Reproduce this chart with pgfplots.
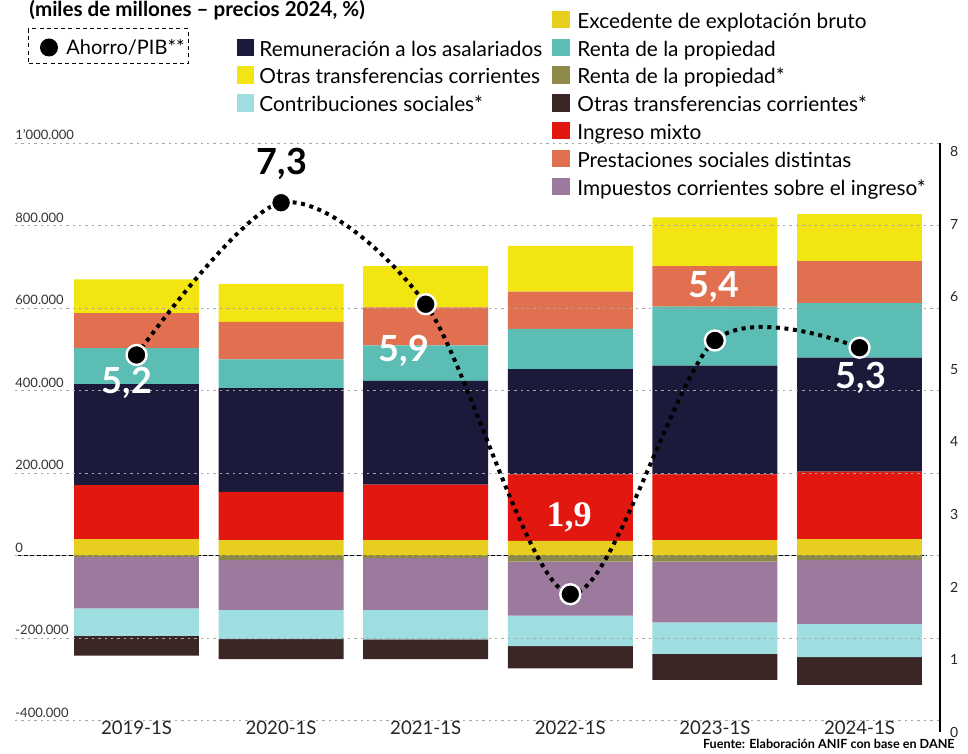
\documentclass[border=0pt]{standalone}
\usepackage{fontspec}
\setmainfont{Lato}
\newfontfamily\serifb{Liberation Serif}
\usepackage{pgfplots}
\pgfplotsset{compat=1.18}

\definecolor{cE}{HTML}{E8CF1F}
\definecolor{cOT}{HTML}{F3E512}
\definecolor{cM}{HTML}{E2170F}
\definecolor{cR}{HTML}{1B1A3A}
\definecolor{cRP}{HTML}{5BBDB3}
\definecolor{cPS}{HTML}{E0704F}
\definecolor{cRPs}{HTML}{8E8B4A}
\definecolor{cI}{HTML}{9B7A9E}
\definecolor{cC}{HTML}{9EDDE0}
\definecolor{cOTs}{HTML}{3B2626}

\pgfplotsset{base/.style={
  scale only axis, width=462.5pt, height=294.4pt,
  at={(7.5pt,11pt)}, anchor=south west,
  xmin=-0.8403, xmax=5.5567,
}}
\newcommand\legf{\fontsize{10.4}{12}\selectfont}

\begin{document}
\begin{tikzpicture}
\useasboundingbox (0,0) rectangle (484pt,377pt);

% negative stack
\begin{axis}[base, ymin=-427400, ymax=1000000, hide axis,
  ybar stacked, bar width=0.864]
\addplot[fill=cRPs, draw=none] coordinates {(0,-3000) (1,-10500) (2,-5000) (3,-14500) (4,-14500) (5,-10500)};
\addplot[fill=cI, draw=none] coordinates {(0,-124500) (1,-121000) (2,-126600) (3,-130500) (4,-147000) (5,-155000)};
\addplot[fill=cC, draw=none] coordinates {(0,-67000) (1,-71000) (2,-71000) (3,-74000) (4,-76500) (5,-80500)};
\addplot[fill=cOTs, draw=none] coordinates {(0,-48000) (1,-48000) (2,-48000) (3,-54000) (4,-63000) (5,-67000)};
\end{axis}

% positive stack
\begin{axis}[base, ymin=-427400, ymax=1000000,
  ybar stacked, bar width=0.864, axis on top,
  axis line style={draw=none}, major tick length=0, scaled y ticks=false,
  ytick={-400000,-200000,0,200000,400000,600000,800000,1000000},
  yticklabels={-400.000,-200.000,0,200.000,400.000,600.000,800.000,1'000.000},
  yticklabel style={anchor=south west, inner sep=0pt, yshift=1.5pt, text=black!80, font=\fontsize{6.5}{7}\selectfont},
  ymajorgrids, major grid style={gray!70, line width=0.4pt, dash pattern=on 1.2pt off 2pt},
  xtick={0,1,2,3,4,5},
  xticklabels={2019-1S,2020-1S,2021-1S,2022-1S,2023-1S,2024-1S},
  xticklabel style={anchor=base, yshift=-1.5pt, text=black!85, font=\fontsize{9.3}{10}\selectfont},
]
\addplot[fill=cE, draw=none] coordinates {(0,40000) (1,38000) (2,38000) (3,36000) (4,38000) (5,40000)};
\addplot[fill=cM, draw=none] coordinates {(0,131000) (1,117000) (2,134000) (3,161000) (4,159000) (5,164000)};
\addplot[fill=cR, draw=none] coordinates {(0,245000) (1,251000) (2,252000) (3,255000) (4,264000) (5,276000)};
\addplot[fill=cRP, draw=none] coordinates {(0,87000) (1,70000) (2,86000) (3,98000) (4,143000) (5,132000)};
\addplot[fill=cPS, draw=none] coordinates {(0,85000) (1,91000) (2,92000) (3,90000) (4,98000) (5,102000)};
\addplot[fill=cOT, draw=none] coordinates {(0,82000) (1,92000) (2,100000) (3,111000) (4,118000) (5,114000)};
\draw[black, line width=0.75pt] (axis cs:-0.819,0) -- (axis cs:5.467,0);
\end{axis}

% right axis: Ahorro/PIB
\begin{axis}[base, ymin=0, ymax=8.121,
  axis x line=none, axis y line*=right,
  axis line style={black, line width=0.6pt, -},
  major tick length=0,
  ytick={0,1,2,3,4,5,6,7,8},
  yticklabels={0,1,2,3,4,5,6,7,8},
  yticklabel style={anchor=west, xshift=1.5pt, text=black!85, font=\fontsize{7}{8}\selectfont},
]
\addplot[smooth, black, line width=2pt, dash pattern=on 2pt off 2.3pt] coordinates {(0,5.2) (1,7.3) (2,5.9) (3,1.9) (4,5.4) (5,5.3)};
\addplot[only marks, mark=*, mark size=5pt, mark options={fill=black, draw=white, line width=1.2pt}] coordinates {(0,5.2) (1,7.3) (2,5.9) (3,1.9) (4,5.4) (5,5.3)};
\end{axis}

\begin{scope}[x=0.5pt, y=-0.5pt, yshift=377pt]
% title
\node[anchor=base west, inner sep=0pt, font=\bfseries\fontsize{10.3}{12}\selectfont] at (29,17) {(miles de millones – precios 2024, \%)};
% Ahorro box
\draw[black, line width=0.5pt, dash pattern=on 2pt off 1.6pt] (28,29) rectangle (188,64);
\fill[black] (49,47.5) circle (9);
\node[anchor=base west, inner sep=0pt, font=\fontsize{10}{11}\selectfont] at (66,55) {Ahorro/PIB**};
% legend column 1
\fill[cR] (237,38.6) rectangle (254,56.1);
\node[anchor=base west, inner sep=0pt, font=\legf] at (259,56.1) {Remuneración a los asalariados};
\fill[cOT] (237,66.4) rectangle (254,83.9);
\node[anchor=base west, inner sep=0pt, font=\legf] at (259,83.9) {Otras transferencias corrientes};
\fill[cC] (237,94.2) rectangle (254,111.7);
\node[anchor=base west, inner sep=0pt, font=\legf] at (259,111.7) {Contribuciones sociales*};
% legend column 2
\fill[cE] (552,10.8) rectangle (570,28.3);
\node[anchor=base west, inner sep=0pt, font=\legf] at (577,28.3) {Excedente de explotación bruto};
\fill[cRP] (552,38.6) rectangle (570,56.1);
\node[anchor=base west, inner sep=0pt, font=\legf] at (577,56.1) {Renta de la propiedad};
\fill[cRPs] (552,66.4) rectangle (570,83.9);
\node[anchor=base west, inner sep=0pt, font=\legf] at (577,83.9) {Renta de la propiedad*};
\fill[cOTs] (552,94.2) rectangle (570,111.7);
\node[anchor=base west, inner sep=0pt, font=\legf] at (577,111.7) {Otras transferencias corrientes*};
\fill[cM] (552,122) rectangle (570,139.5);
\node[anchor=base west, inner sep=0pt, font=\legf] at (577,139.5) {Ingreso mixto};
\fill[cPS] (552,149.8) rectangle (570,167.3);
\node[anchor=base west, inner sep=0pt, font=\legf] at (577,167.3) {Prestaciones sociales distintas};
\fill[cI] (552,177.6) rectangle (570,195.1);
\node[anchor=base west, inner sep=0pt, font=\legf] at (577,195.1) {Impuestos corrientes sobre el ingreso*};
% value labels
\node[text=white, font=\bfseries\fontsize{18}{20}\selectfont] at (127,383) {5,2};
\node[text=black, font=\bfseries\fontsize{18}{20}\selectfont] at (282,164) {7,3};
\node[text=white, font=\bfseries\fontsize{18}{20}\selectfont] at (404,351) {5,9};
\node[text=white, font=\serifb\bfseries\fontsize{18}{20}\selectfont] at (569,517) {1,9};
\node[text=white, font=\bfseries\fontsize{18}{20}\selectfont] at (714,287) {5,4};
\node[text=white, font=\bfseries\fontsize{18}{20}\selectfont] at (861,378) {5,3};
% source
\node[anchor=base east, inner sep=0pt, font=\bfseries\fontsize{6.3}{7}\selectfont] at (955,749) {Fuente: Elaboración ANIF con base en DANE};
\end{scope}
\end{tikzpicture}
\end{document}
